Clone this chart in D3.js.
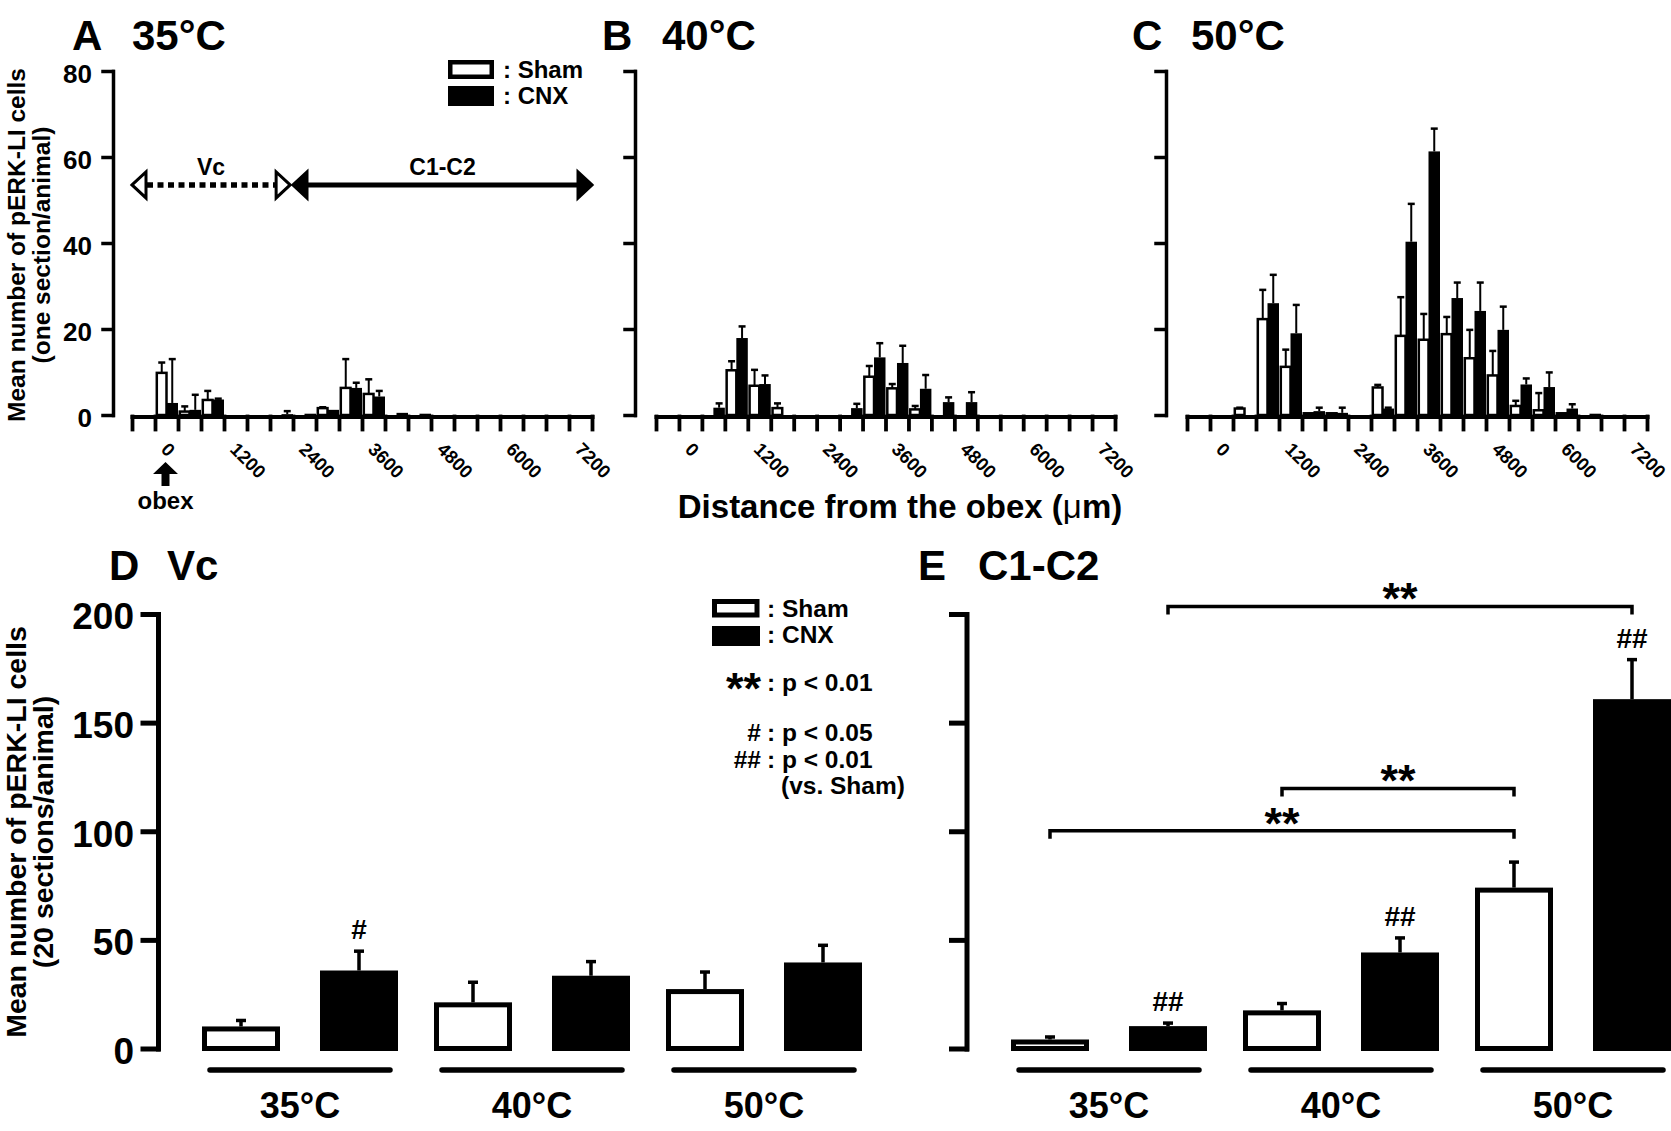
<!DOCTYPE html>
<html>
<head>
<meta charset="utf-8">
<script src="https://cdn.jsdelivr.net/npm/d3@7"></script>
<style>
  body { margin: 0; background: #fff; }
  svg { display: block; font-family: 'Liberation Sans', Arial, Helvetica, sans-serif; font-weight: bold; }
</style>
</head>
<body>
<svg id="fig" width="1671" height="1131"></svg>
<script>
// distance bins (um from the obex), one Sham/CNX pair per bin
var bins = [-400, 0, 400, 800, 1200, 1600, 2000, 2400, 2800, 3200, 3600, 4000, 4400, 4800, 5200, 5600, 6000, 6400, 6800, 7200];
var distLabels = [0, 1200, 2400, 3600, 4800, 6000, 7200];

// A: 35°C  (mean and SEM, one section/animal)
var sham35    = [0, 9.8, 0.8, 3.5, 0, 0, 0,   0,   1.6, 6.3, 4.9, 0,   0,   0, 0, 0, 0, 0, 0, 0];
var sham35Sem = [0, 2.4, 1.2, 2.1, 0, 0, 0,   0,   0.2, 6.7, 3.4, 0,   0,   0, 0, 0, 0, 0, 0, 0];
var cnx35     = [0, 2.8, 1.2, 3.6, 0, 0, 0.2, 0.3, 1.2, 6.3, 4.3, 0.5, 0.3, 0, 0, 0, 0, 0, 0, 0];
var cnx35Sem  = [0, 10.2, 3.5, 0.2, 0, 0, 0.7, 0,  0,   1.2, 1.3, 0,   0,   0, 0, 0, 0, 0, 0, 0];

// B: 40°C
var sham40    = [0, 0, 0,   10.4, 6.8, 1.6, 0, 0, 0,   8.9,  6.2,  1.3, 0,   0,   0, 0, 0, 0, 0, 0];
var sham40Sem = [0, 0, 0,   2.1,  3.7, 1.1, 0, 0, 0,   2.5,  1.0,  0.8, 0,   0,   0, 0, 0, 0, 0, 0];
var cnx40     = [0, 0, 1.7, 17.9, 7.2, 0,   0, 0, 1.6, 13.4, 12.1, 6.1, 3.0, 3.0, 0, 0, 0, 0, 0, 0];
var cnx40Sem  = [0, 0, 1.0, 2.7,  2.0, 0,   0, 0, 1.0, 3.3,  4.0,  3.2, 1.1, 2.3, 0, 0, 0, 0, 0, 0];

// C: 50°C
var sham50    = [0, 0, 1.5, 22.3, 11.2, 0.4, 0.4, 0, 6.4, 18.4, 17.5, 18.8, 13.2, 9.2,  2.1, 1.1, 0.4, 0,   0, 0];
var sham50Sem = [0, 0, 0.2, 6.8,  4.0,  0,   0,   0, 0.6, 9.0,  6.0,  4.0,  6.6,  5.7,  1.2, 4.0, 0,   0,   0, 0];
var cnx50     = [0, 0, 0,   26.0, 19.0, 0.9, 0.5, 0, 1.5, 40.3, 61.3, 27.2, 24.2, 19.8, 7.1, 6.5, 1.5, 0.3, 0, 0];
var cnx50Sem  = [0, 0, 0,   6.6,  6.6,  0.8, 1.2, 0, 0.2, 8.8,  5.3,  3.6,  6.6,  5.4,  1.4, 3.4, 1.0, 0,   0, 0];

// D / E: totals over 20 sections/animal
var temps = ['35°C', '40°C', '50°C'];
var vcSham     = [9.0, 20.1, 26.2];
var vcShamSem  = [3.9, 10.4, 9.0];
var vcCnx      = [35.9, 33.5, 39.6];
var vcCnxSem   = [8.9, 6.5, 7.9];
var vcMarks    = ['#', '', ''];
var c12Sham    = [3.0, 16.4, 72.9];
var c12ShamSem = [2.3, 4.3, 12.9];
var c12Cnx     = [10.3, 44.2, 160.8];
var c12CnxSem  = [1.4, 6.7, 18.2];
var c12Marks   = ['##', '##', '##'];

var svg = d3.select("#fig");

function styleAxis(g, w) {
  g.attr("font-family", null).attr("font-size", null).attr("font-weight", null);
  g.selectAll("path, line").attr("stroke", "#000").attr("stroke-width", w).attr("stroke-linecap", "square");
}

// ---------- A, B, C: distribution along the rostro-caudal axis ----------
var yDist = d3.scaleLinear().domain([0, 80]).range([415, 71]);
var edges = bins.map(function (b) { return b - 200; }).concat([bins[bins.length - 1] + 200]);

var distPanels = [
  { letter: 'A', title: '35°C', lx: 72,   tx: 132,  x0: 132,  x1: 592,  ax: 113,  sham: sham35, shamSem: sham35Sem, cnx: cnx35, cnxSem: cnx35Sem, labels: true },
  { letter: 'B', title: '40°C', lx: 602,  tx: 662,  x0: 656,  x1: 1115, ax: 635,  sham: sham40, shamSem: sham40Sem, cnx: cnx40, cnxSem: cnx40Sem, labels: false },
  { letter: 'C', title: '50°C', lx: 1132, tx: 1191, x0: 1187, x1: 1647, ax: 1166, sham: sham50, shamSem: sham50Sem, cnx: cnx50, cnxSem: cnx50Sem, labels: false }
];

distPanels.forEach(function (p) {
  var x = d3.scaleLinear().domain([-600, 7400]).range([p.x0, p.x1]);
  var g = svg.append("g");
  p.xScale = x;

  g.append("text").attr("x", p.lx).attr("y", 50).attr("font-size", 42).text(p.letter);
  g.append("text").attr("x", p.tx).attr("y", 50).attr("font-size", 42).text(p.title);

  // y axis
  var ya = g.append("g").attr("transform", "translate(" + p.ax + ",0)")
    .call(d3.axisLeft(yDist).tickValues([0, 20, 40, 60, 80]).tickSize(10).tickSizeOuter(0).tickPadding(11)
      .tickFormat(p.labels ? d3.format("d") : ""));
  styleAxis(ya, 3.5);
  ya.selectAll("text").attr("font-size", 26).attr("dy", "0.45em");

  // x axis: ticks on bin edges
  var xa = g.append("g").attr("transform", "translate(0,416.5)")
    .call(d3.axisBottom(x).tickValues(edges).tickSize(13).tickSizeOuter(0).tickFormat(""));
  styleAxis(xa, 3.8);
  xa.select(".domain").attr("stroke-width", 4);

  // rotated distance labels at bin centres
  var xl = g.append("g").attr("transform", "translate(0,416.5)")
    .call(d3.axisBottom(x).tickValues(distLabels).tickSize(0).tickFormat(d3.format("d")));
  xl.attr("font-family", null).attr("font-size", null);
  xl.select(".domain").remove();
  xl.selectAll("text").attr("font-size", 18.5).attr("text-anchor", "start")
    .attr("x", 0).attr("y", 0).attr("dy", 0)
    .attr("transform", "translate(-7,34) rotate(45)");

  var rows = bins.map(function (b, i) {
    return { b: b, sham: p.sham[i], shamSem: p.shamSem[i], cnx: p.cnx[i], cnxSem: p.cnxSem[i] };
  });

  g.selectAll(".sham").data(rows.filter(function (d) { return d.sham > 0; })).enter().append("rect")
    .attr("x", function (d) { return x(d.b - 200) + 1.8; })
    .attr("width", function (d) { return x(d.b) - x(d.b - 200) - 1.8; })
    .attr("y", function (d) { return yDist(d.sham); })
    .attr("height", function (d) { return yDist(0) - yDist(d.sham); })
    .attr("fill", "#fff").attr("stroke", "#000").attr("stroke-width", 2.5);

  g.selectAll(".cnx").data(rows.filter(function (d) { return d.cnx > 0; })).enter().append("rect")
    .attr("x", function (d) { return x(d.b); })
    .attr("width", function (d) { return x(d.b + 200) - x(d.b); })
    .attr("y", function (d) { return yDist(d.cnx); })
    .attr("height", function (d) { return yDist(0) - yDist(d.cnx); })
    .attr("fill", "#000");

  var errs = [];
  rows.forEach(function (d) {
    if (d.shamSem > 0) errs.push({ cx: (x(d.b - 200) + x(d.b)) / 2 + 1, v: d.sham, s: d.shamSem });
    if (d.cnxSem > 0) errs.push({ cx: (x(d.b) + x(d.b + 200)) / 2, v: d.cnx, s: d.cnxSem });
  });
  var eg = g.selectAll(".err").data(errs).enter().append("g").attr("stroke", "#000");
  eg.append("line").attr("stroke-width", 2)
    .attr("x1", function (d) { return d.cx; }).attr("x2", function (d) { return d.cx; })
    .attr("y1", function (d) { return yDist(d.v); }).attr("y2", function (d) { return yDist(d.v + d.s); });
  eg.append("line").attr("stroke-width", 2.5)
    .attr("x1", function (d) { return d.cx - 3.5; }).attr("x2", function (d) { return d.cx + 3.5; })
    .attr("y1", function (d) { return yDist(d.v + d.s); }).attr("y2", function (d) { return yDist(d.v + d.s); });
});

// annotations in panel A
var xA = distPanels[0].xScale;
var ga = svg.append("g");

// Vc (dashed, open heads) and C1-C2 (solid, filled heads)
var ay = yDist(53.5);
function head(tip, dir, filled) {
  var base = tip + dir * 14;
  ga.append("path")
    .attr("d", "M" + tip + "," + ay + "L" + base + "," + (ay - 13) + "L" + base + "," + (ay + 13) + "Z")
    .attr("fill", filled ? "#000" : "#fff").attr("stroke", "#000").attr("stroke-width", 3)
    .attr("stroke-linejoin", "miter");
}
ga.append("line").attr("x1", xA(-600) + 15).attr("x2", xA(2150) - 15).attr("y1", ay).attr("y2", ay)
  .attr("stroke", "#000").attr("stroke-width", 5.5).attr("stroke-dasharray", "6,4.5");
head(xA(-600), 1, false);
head(xA(2150), -1, false);
ga.append("line").attr("x1", xA(2200) + 12).attr("x2", xA(7400) - 12).attr("y1", ay).attr("y2", ay)
  .attr("stroke", "#000").attr("stroke-width", 5);
head(xA(2200), 1, true);
head(xA(7400), -1, true);
ga.append("text").attr("x", (xA(-600) + xA(2150)) / 2).attr("y", ay - 10).attr("text-anchor", "middle")
  .attr("font-size", 23).text("Vc");
ga.append("text").attr("x", (xA(2200) + xA(7400)) / 2).attr("y", ay - 10).attr("text-anchor", "middle")
  .attr("font-size", 23).text("C1-C2");

// obex arrow
var ox = xA(0) - 1;
ga.append("path")
  .attr("d", "M" + ox + ",462L" + (ox + 12.5) + ",474L" + (ox + 4) + ",474L" + (ox + 4) + ",486L" +
    (ox - 4) + ",486L" + (ox - 4) + ",474L" + (ox - 12.5) + ",474Z")
  .attr("fill", "#000");
ga.append("text").attr("x", ox).attr("y", 509).attr("text-anchor", "middle").attr("font-size", 24).text("obex");

// legend A
ga.append("rect").attr("x", 450.25).attr("y", 62.25).attr("width", 41.5).attr("height", 14.5)
  .attr("fill", "#fff").attr("stroke", "#000").attr("stroke-width", 4.5);
ga.append("rect").attr("x", 448).attr("y", 86).attr("width", 46).attr("height", 20).attr("fill", "#000");
ga.append("text").attr("x", 503).attr("y", 78).attr("font-size", 24).text(": Sham");
ga.append("text").attr("x", 503).attr("y", 104).attr("font-size", 24).text(": CNX");

// y title A-C
var yt = svg.append("text").attr("transform", "translate(25,245) rotate(-90)").attr("text-anchor", "middle").attr("font-size", 24.5);
yt.append("tspan").attr("x", 0).attr("y", 0).text("Mean number of pERK-LI cells");
yt.append("tspan").attr("x", 0).attr("y", 25).text("(one section/animal)");

// x title
var xt = svg.append("text").attr("x", 900).attr("y", 518).attr("text-anchor", "middle").attr("font-size", 33);
xt.append("tspan").text("Distance from the obex (");
xt.append("tspan").attr("font-weight", "normal").text("\u03bc");
xt.append("tspan").text("m)");

// ---------- D, E: totals ----------
var yBar = d3.scaleLinear().domain([0, 200]).range([1048.5, 614]);
var sub = d3.scaleBand().domain(['Sham', 'CNX']).range([0, 196]).paddingInner(40 / 118);

var groupPanels = [
  { letter: 'D', title: 'Vc',    lx: 109, tx: 167, ax: 158,   x0: 202,  x1: 862,  sham: vcSham,  shamSem: vcShamSem,  cnx: vcCnx,  cnxSem: vcCnxSem,  marks: vcMarks,  labels: true },
  { letter: 'E', title: 'C1-C2', lx: 918, tx: 978, ax: 966.5, x0: 1011, x1: 1671, sham: c12Sham, shamSem: c12ShamSem, cnx: c12Cnx, cnxSem: c12CnxSem, marks: c12Marks, labels: false }
];

groupPanels.forEach(function (p) {
  var xg = d3.scaleBand().domain(temps).range([p.x0, p.x1]).paddingInner(36 / 232);
  p.xg = xg;
  var g = svg.append("g");

  g.append("text").attr("x", p.lx).attr("y", 580).attr("font-size", 42).text(p.letter);
  g.append("text").attr("x", p.tx).attr("y", 580).attr("font-size", 42).text(p.title);

  var ya = g.append("g").attr("transform", "translate(" + p.ax + ",0)")
    .call(d3.axisLeft(yBar).tickValues([0, 50, 100, 150, 200]).tickSize(15).tickSizeOuter(0).tickPadding(9)
      .tickFormat(p.labels ? d3.format("d") : ""));
  styleAxis(ya, 5);
  ya.selectAll("text").attr("font-size", 37).attr("dy", "0.4em");

  var rows = temps.map(function (t, i) {
    return { t: t, sham: p.sham[i], shamSem: p.shamSem[i], cnx: p.cnx[i], cnxSem: p.cnxSem[i], mark: p.marks[i] };
  });

  g.selectAll(".sham").data(rows).enter().append("rect")
    .attr("x", function (d) { return xg(d.t) + sub('Sham') + 2.5; })
    .attr("width", sub.bandwidth() - 5)
    .attr("y", function (d) { return yBar(d.sham); })
    .attr("height", function (d) { return yBar(0) - yBar(d.sham); })
    .attr("fill", "#fff").attr("stroke", "#000").attr("stroke-width", 5);

  g.selectAll(".cnx").data(rows).enter().append("rect")
    .attr("x", function (d) { return xg(d.t) + sub('CNX'); })
    .attr("width", sub.bandwidth())
    .attr("y", function (d) { return yBar(d.cnx); })
    .attr("height", function (d) { return yBar(0) - yBar(d.cnx) + 2.5; })
    .attr("fill", "#000");

  var errs = [];
  rows.forEach(function (d) {
    errs.push({ cx: xg(d.t) + sub('Sham') + sub.bandwidth() / 2, v: d.sham, s: d.shamSem, top: 2.5 });
    errs.push({ cx: xg(d.t) + sub('CNX') + sub.bandwidth() / 2, v: d.cnx, s: d.cnxSem, top: 0, mark: d.mark });
  });
  var eg = g.selectAll(".err").data(errs).enter().append("g").attr("stroke", "#000");
  eg.append("line").attr("stroke-width", 3.5)
    .attr("x1", function (d) { return d.cx; }).attr("x2", function (d) { return d.cx; })
    .attr("y1", function (d) { return yBar(d.v) - d.top; }).attr("y2", function (d) { return yBar(d.v + d.s); });
  eg.append("line").attr("stroke-width", 3.5)
    .attr("x1", function (d) { return d.cx - 5; }).attr("x2", function (d) { return d.cx + 5; })
    .attr("y1", function (d) { return yBar(d.v + d.s); }).attr("y2", function (d) { return yBar(d.v + d.s); });

  g.selectAll(".mark").data(errs.filter(function (d) { return d.mark; })).enter().append("text")
    .attr("x", function (d) { return d.cx; })
    .attr("y", function (d) { return yBar(d.v + d.s) - 12; })
    .attr("text-anchor", "middle").attr("font-size", 28)
    .text(function (d) { return d.mark; });

  // group underlines and temperature labels
  g.selectAll(".grp").data(temps).enter().append("line")
    .attr("x1", function (t) { return xg(t) + 8; }).attr("x2", function (t) { return xg(t) + xg.bandwidth() - 8; })
    .attr("y1", 1070).attr("y2", 1070)
    .attr("stroke", "#000").attr("stroke-width", 5.5).attr("stroke-linecap", "round");
  var xa = g.append("g").attr("transform", "translate(0,1118)")
    .call(d3.axisBottom(xg).tickSize(0));
  xa.attr("font-family", null).attr("font-size", null);
  xa.select(".domain").remove();
  xa.selectAll("text").attr("font-size", 36).attr("y", 0).attr("dy", 0);
});

// y title D/E
var yt2 = svg.append("text").attr("transform", "translate(26,832) rotate(-90)").attr("text-anchor", "middle").attr("font-size", 28.5);
yt2.append("tspan").attr("x", 0).attr("y", 0).text("Mean number of pERK-LI cells");
yt2.append("tspan").attr("x", 0).attr("y", 27).text("(20 sections/animal)");

// significance brackets in E
var pE = groupPanels[1];
function barCentre(t, s) { return pE.xg(t) + sub(s) + sub.bandwidth() / 2; }
var brackets = [
  { a: ['35°C', 'CNX'],  b: ['50°C', 'CNX'],  level: 203.5 },
  { a: ['40°C', 'Sham'], b: ['50°C', 'Sham'], level: 119.7 },
  { a: ['35°C', 'Sham'], b: ['50°C', 'Sham'], level: 100.2 }
];
var bg = svg.append("g");
brackets.forEach(function (k) {
  var xa = barCentre(k.a[0], k.a[1]), xb = barCentre(k.b[0], k.b[1]), y = yBar(k.level);
  bg.append("path").attr("d", "M" + xa + "," + (y + 8) + "V" + y + "H" + xb + "V" + (y + 8))
    .attr("fill", "none").attr("stroke", "#000").attr("stroke-width", 3.5);
  bg.append("text").attr("x", (xa + xb) / 2).attr("y", y + 8).attr("text-anchor", "middle")
    .attr("font-size", 45).text("**");
});

// legend D
var gl = svg.append("g");
gl.append("rect").attr("x", 714.5).attr("y", 601.5).attr("width", 42.5).attr("height", 13.5)
  .attr("fill", "#fff").attr("stroke", "#000").attr("stroke-width", 5);
gl.append("rect").attr("x", 712).attr("y", 626).attr("width", 48).attr("height", 20).attr("fill", "#000");
gl.append("text").attr("x", 767).attr("y", 617).attr("font-size", 24.5).text(": Sham");
gl.append("text").attr("x", 767).attr("y", 643).attr("font-size", 24.5).text(": CNX");
gl.append("text").attr("x", 761).attr("y", 704).attr("text-anchor", "end").attr("font-size", 45).text("**");
gl.append("text").attr("x", 767).attr("y", 691).attr("font-size", 24.5).text(": p < 0.01");
gl.append("text").attr("x", 761).attr("y", 741).attr("text-anchor", "end").attr("font-size", 24.5).text("#");
gl.append("text").attr("x", 767).attr("y", 741).attr("font-size", 24.5).text(": p < 0.05");
gl.append("text").attr("x", 761).attr("y", 768).attr("text-anchor", "end").attr("font-size", 24.5).text("##");
gl.append("text").attr("x", 767).attr("y", 768).attr("font-size", 24.5).text(": p < 0.01");
gl.append("text").attr("x", 781).attr("y", 794).attr("font-size", 24.5).text("(vs. Sham)");
</script>
</body>
</html>
